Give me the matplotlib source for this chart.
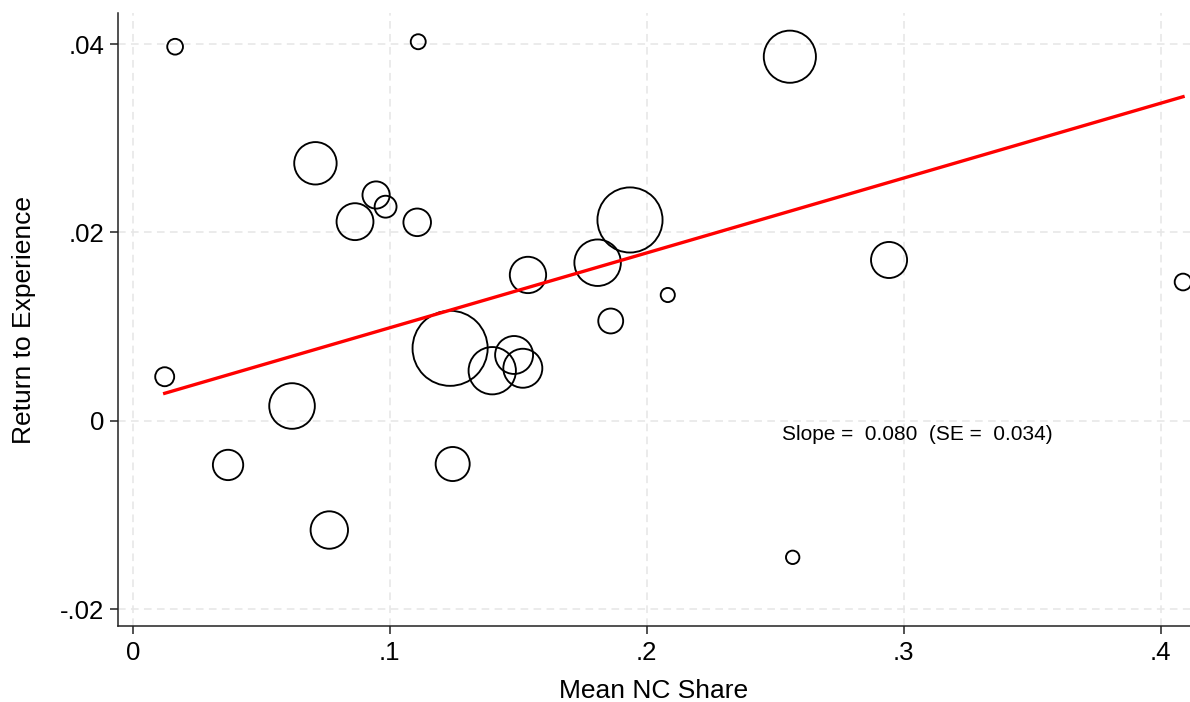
import matplotlib
matplotlib.use("Agg")
import matplotlib.pyplot as plt
import numpy as np

# ---- data ----
nc_share = [0.0165, 0.1111, 0.0711, 0.0947, 0.0984, 0.0865, 0.1107, 0.2557,
            0.1935, 0.1809, 0.1538, 0.2082, 0.2943, 0.4087, 0.1860, 0.1235,
            0.1484, 0.1399, 0.1518, 0.01245, 0.0620, 0.0371, 0.1245, 0.0765,
            0.2568]
return_exp = [0.03972, 0.04025, 0.02734, 0.02397, 0.02273, 0.02114, 0.02107, 0.03866,
              0.02132, 0.01678, 0.01548, 0.01335, 0.01707, 0.01473, 0.01059, 0.00769,
              0.00698, 0.00531, 0.00557, 0.00467, 0.00156, -0.00470, -0.00460, -0.01161,
              -0.01451]
weights = [62, 56, 450, 185, 120, 340, 190, 680,
           1060, 540, 330, 50, 325, 70, 155, 1410,
           360, 560, 380, 90, 520, 230, 290, 350,
           45]

fit_slope = 0.0795
fit_intercept = 0.00192
slope_label = 0.080
se_label = 0.034

x_ticks = [0, 0.1, 0.2, 0.3, 0.4]
x_ticklabels = ["0", ".1", ".2", ".3", ".4"]
y_ticks = [-0.02, 0, 0.02, 0.04]
y_ticklabels = ["-.02", "0", ".02", ".04"]

# ---- figure ----
plt.rcParams['font.family'] = ['Liberation Sans', 'DejaVu Sans']
fig = plt.figure(figsize=(11.9, 7.02), dpi=100)
ax = fig.add_axes([0.09916, 0.10826, 0.90084, 0.87322])

ax.set_xlim(-0.00572, 0.4114)
ax.set_ylim(-0.021805, 0.043302)

ax.set_xticks(x_ticks)
ax.set_xticklabels(x_ticklabels)
ax.set_yticks(y_ticks)
ax.set_yticklabels(y_ticklabels)

ax.grid(True, color="#e6e6e6", linestyle=(0, (5, 3.5)), linewidth=1.1)
ax.set_axisbelow(True)

for s in ["top", "right"]:
    ax.spines[s].set_visible(False)
for s in ["left", "bottom"]:
    ax.spines[s].set_color("#222222")
    ax.spines[s].set_linewidth(1.1)

ax.tick_params(axis="both", direction="out", length=6, width=1.1, color="#222222",
               labelsize=18.5, pad=4)
ax.tick_params(axis="x", pad=5)

w = np.array(weights, dtype=float)
ax.scatter(nc_share, return_exp, s=w * 2.0736, facecolors="none",
           edgecolors="black", linewidths=1.35, zorder=3)

xs = np.array([min(nc_share), max(nc_share)])
ax.plot(xs, fit_intercept + fit_slope * xs, color="red", linewidth=2.4, zorder=4)

ax.text(0.2525, -0.00144, f"Slope =  {slope_label:.3f}  (SE =  {se_label:.3f})",
        fontsize=15, ha="left", va="center")

ax.set_xlabel("Mean NC Share", fontsize=19, labelpad=10)
ax.set_ylabel("Return to Experience", fontsize=19, labelpad=17)

fig.savefig("out.png", dpi=100)
